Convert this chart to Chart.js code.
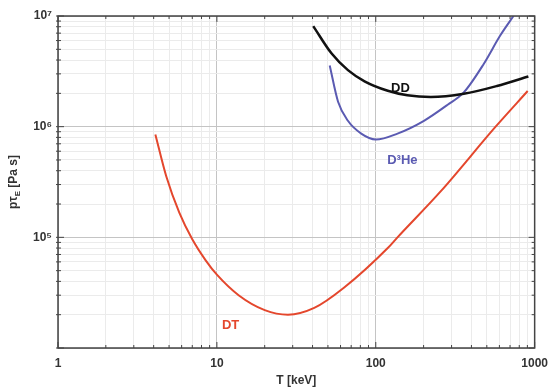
<!DOCTYPE html>
<html>
<head>
<meta charset="utf-8">
<script src="https://cdn.jsdelivr.net/npm/chart.js@4"></script>
<style>
  html, body { margin: 0; padding: 0; background: #fff; }
  #wrap { width: 556px; height: 388px; }
</style>
</head>
<body>
<div id="wrap"><canvas id="chartLawson"></canvas></div>
<script>
// T [keV] and p*tau [Pa s]
const dtT = [4.1, 4.8, 5.8, 7.0, 8.5, 10, 13.7, 20, 28, 41, 63, 119, 137, 256, 568, 904];
const dtP = [8.5e5, 3.56e5, 1.67e5, 9.6e4, 6.2e4, 4.6e4, 3.0e4, 2.2e4, 2.0e4, 2.3e4, 3.5e4, 8.0e4, 1.0e5, 2.6e5, 1.0e6, 2.1e6];

const ddT = [40.4, 52.6, 66.8, 85, 119, 158, 222, 358, 579, 913];
const ddP = [8.1e6, 4.6e6, 3.24e6, 2.57e6, 2.11e6, 1.92e6, 1.85e6, 1.98e6, 2.33e6, 2.84e6];

const dheT = [51.3, 57.9, 66.8, 81, 100, 137, 201, 282, 358, 478, 607, 736];
const dheP = [3.57e6, 1.68e6, 1.13e6, 8.66e5, 7.66e5, 8.66e5, 1.13e6, 1.57e6, 2.04e6, 3.69e6, 6.66e6, 1.0e7];

const seriesNames = ["DT", "DD", "D³He"];
const seriesColors = ["#e4472d", "#111111", "#5b5bb2"];
// where the curve names sit, in data units
const labelT = [12.2, 143, 147];
const labelP = [1.6e4, 2.2e6, 5.0e5];

const xMin = 1, xMax = 1000, yMin = 1e4, yMax = 1e7;
const supers = {4: "⁴", 5: "⁵", 6: "⁶", 7: "⁷"};

function pts(xs, ys) {
  return xs.map((x, i) => ({x: x, y: ys[i]}));
}
function isMajor(v) {
  const l = Math.log10(v);
  return Math.abs(l - Math.round(l)) < 1e-9;
}
function logTicks(min, max) {
  const out = [];
  for (let e = Math.round(Math.log10(min)); e < Math.round(Math.log10(max)); e++) {
    for (let m = 1; m < 10; m++) out.push({value: m * Math.pow(10, e)});
  }
  out.push({value: max});
  return out;
}

const FONT = "'Liberation Sans', Arial, sans-serif";

const framePlugin = {
  id: 'frame',
  afterDatasetsDraw(chart) {
    const ctx = chart.ctx, a = chart.chartArea;
    const xs = chart.scales.x, ys = chart.scales.y;
    ctx.save();
    ctx.strokeStyle = '#444';
    ctx.lineWidth = 1.5;
    ctx.strokeRect(a.left, a.top, a.right - a.left, a.bottom - a.top);
    ctx.lineWidth = 1;
    xs.ticks.forEach(t => {
      const px = xs.getPixelForValue(t.value);
      const len = isMajor(t.value) ? 6 : 3;
      ctx.beginPath();
      ctx.moveTo(px, a.bottom); ctx.lineTo(px, a.bottom - len);
      ctx.moveTo(px, a.top); ctx.lineTo(px, a.top + len);
      ctx.stroke();
    });
    ys.ticks.forEach(t => {
      const py = ys.getPixelForValue(t.value);
      const len = isMajor(t.value) ? 6 : 3;
      ctx.beginPath();
      ctx.moveTo(a.left - 2, py); ctx.lineTo(a.left + len, py);
      ctx.moveTo(a.right, py); ctx.lineTo(a.right - len, py);
      ctx.stroke();
    });

    // curve names
    ctx.font = "bold 13px " + FONT;
    ctx.textAlign = 'center';
    ctx.textBaseline = 'middle';
    seriesNames.forEach((name, i) => {
      ctx.fillStyle = seriesColors[i];
      ctx.fillText(name, xs.getPixelForValue(labelT[i]), ys.getPixelForValue(labelP[i]));
    });

    // y title with subscript
    const cy = (a.top + a.bottom) / 2;
    ctx.translate(14, cy);
    ctx.rotate(-Math.PI / 2);
    ctx.fillStyle = '#333';
    ctx.textAlign = 'left';
    const big = "bold 12px " + FONT, small = "bold 8px " + FONT;
    ctx.font = big;
    const w1 = ctx.measureText("pτ").width;
    const w3 = ctx.measureText(" [Pa s]").width;
    ctx.font = small;
    const w2 = ctx.measureText("E").width;
    let x0 = -(w1 + w2 + w3) / 2;
    ctx.font = big;
    ctx.fillText("pτ", x0, 0);
    ctx.font = small;
    ctx.fillText("E", x0 + w1, 4);
    ctx.font = big;
    ctx.fillText(" [Pa s]", x0 + w1 + w2, 0);
    ctx.restore();
  }
};

const data = {
  datasets: [
    { label: seriesNames[0], data: pts(dtT, dtP), borderColor: seriesColors[0], borderWidth: 2 },
    { label: seriesNames[1], data: pts(ddT, ddP), borderColor: seriesColors[1], borderWidth: 2.5 },
    { label: seriesNames[2], data: pts(dheT, dheP), borderColor: seriesColors[2], borderWidth: 2 }
  ]
};

const config = {
  type: 'line',
  data: data,
  options: {
    responsive: true,
    maintainAspectRatio: false,
    animation: false,
    layout: { padding: { top: 16, right: 18, left: 0, bottom: 0 } },
    elements: {
      point: { radius: 0 },
      line: { cubicInterpolationMode: 'monotone', fill: false }
    },
    plugins: {
      legend: { display: false },
      tooltip: { enabled: false }
    },
    scales: {
      x: {
        type: 'logarithmic',
        min: xMin, max: xMax,
        afterBuildTicks: s => { s.ticks = logTicks(xMin, xMax); },
        afterFit: s => { s.height = 40; },
        border: { display: false },
        grid: {
          drawTicks: false,
          color: c => isMajor(c.tick.value) ? '#c4c4c4' : '#ebebeb',
          lineWidth: 1
        },
        ticks: {
          autoSkip: false,
          maxRotation: 0,
          padding: 8,
          color: '#333',
          font: { family: FONT, size: 12, weight: 'bold' },
          callback: v => isMajor(v) ? String(Math.round(v)) : ''
        },
        title: {
          display: true,
          text: 'T [keV]',
          color: '#333',
          padding: { top: -2, bottom: 0 },
          font: { family: FONT, size: 12, weight: 'bold' }
        }
      },
      y: {
        type: 'logarithmic',
        min: yMin, max: yMax,
        afterBuildTicks: s => { s.ticks = logTicks(yMin, yMax); },
        afterFit: s => { s.width = 58; },
        border: { display: false },
        grid: {
          drawTicks: false,
          color: c => isMajor(c.tick.value) ? '#c4c4c4' : '#ebebeb',
          lineWidth: 1
        },
        ticks: {
          autoSkip: false,
          padding: 6,
          color: '#333',
          font: { family: FONT, size: 12, weight: 'bold' },
          callback: v => {
            if (!isMajor(v)) return '';
            const e = Math.round(Math.log10(v));
            return e === 4 ? '' : '10' + supers[e];
          }
        }
      }
    }
  },
  plugins: [framePlugin]
};

const myChart = new Chart(document.getElementById('chartLawson'), config);
</script>
</body>
</html>
